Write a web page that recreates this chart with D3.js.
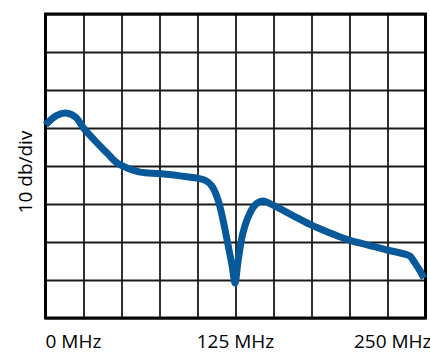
<!DOCTYPE html>
<html>
<head>
<meta charset="utf-8">
<script src="https://cdn.jsdelivr.net/npm/d3@7"></script>
<style>
  body { margin: 0; background: #fff; }
  svg { display: block; font-family: "Open Sans", sans-serif; }
</style>
</head>
<body>
<div id="chart"></div>
<script>
// frequency in MHz, level in dB (10 dB per division)
var freq = [0, 6.9, 14.1, 20, 25, 33.9, 40.5, 47.0, 53.6, 62.2, 75.3, 88.5, 99.7, 105.6, 109.5,
            113.5, 116.8, 120.1, 122.7, 124.7, 126.6, 129.9, 134.5, 138.5, 143.1, 149.7,
            162.2, 174.7, 187.2, 199.7, 212.2, 224.7, 236.5, 239.8, 243, 246.4, 249];
var level = [-29.2, -26.8, -26.1, -27.2, -30.0, -33.9, -36.6, -39.2, -40.5, -41.6, -42.0, -42.6, -43.2, -43.9, -45.3,
             -48.9, -54.2, -60.8, -66.1, -70.8, -65.3, -57.6, -52.4, -50.0, -49.2, -50.3,
             -52.9, -55.5, -57.6, -59.5, -60.8, -62.1, -63.2, -63.7, -65.5, -67.6, -69.5];
var freqGrid = d3.range(0, 251, 25);
var levelGrid = d3.range(0, -81, -10);
var tickLabels = [
    { f: 0, text: "0 MHz", anchor: "start" },
    { f: 125, text: "125 MHz", anchor: "middle" },
    { f: 250, text: "250 MHz", anchor: "end" }
];
var yLabel = "10 db/div";

var margin = { top: 14, right: 4.5, bottom: 35, left: 45.5 };
var W = 430, H = 353;
var width = W - margin.left - margin.right;
var height = H - margin.top - margin.bottom;

var svg = d3.select("#chart").append("svg")
    .attr("width", W)
    .attr("height", H);
var g = svg.append("g")
    .attr("transform", "translate(" + margin.left + "," + margin.top + ")");

var x = d3.scaleLinear().domain([0, 250]).range([0, width]);
var y = d3.scaleLinear().domain([-80, 0]).range([height, 0]);

// grid
g.append("g")
    .attr("transform", "translate(0," + height + ")")
    .call(d3.axisBottom(x).tickValues(freqGrid).tickSize(height).tickSizeOuter(0).tickFormat(""))
    .call(function(a) { a.select(".domain").remove(); })
    .selectAll("line")
    .attr("y2", -height)
    .attr("stroke", "#1a1a1a")
    .attr("stroke-width", 1.8);

g.append("g")
    .call(d3.axisLeft(y).tickValues(levelGrid).tickSize(-width).tickSizeOuter(0).tickFormat(""))
    .call(function(a) { a.select(".domain").remove(); })
    .selectAll("line")
    .attr("stroke", "#1a1a1a")
    .attr("stroke-width", 1.8);

g.append("rect")
    .attr("width", width)
    .attr("height", height)
    .attr("fill", "none")
    .attr("stroke", "#000")
    .attr("stroke-width", 3);

// trace
var line = d3.line()
    .x(function(d) { return x(d[0]); })
    .y(function(d) { return y(d[1]); })
    .curve(d3.curveCatmullRom.alpha(0.5));

g.append("path")
    .datum(d3.zip(freq, level))
    .attr("d", line)
    .attr("fill", "none")
    .attr("stroke", "#08599a")
    .attr("stroke-width", 7)
    .attr("stroke-linejoin", "round");

// labels
g.selectAll(".xlab").data(tickLabels).enter().append("text")
    .attr("class", "xlab")
    .attr("x", function(d) { return d.anchor === "end" ? x(d.f) + 6 : x(d.f); })
    .attr("y", height + 29.5)
    .attr("text-anchor", function(d) { return d.anchor; })
    .attr("font-size", 19)
    .attr("fill", "#000")
    .text(function(d) { return d.text; });

svg.append("text")
    .attr("transform", "translate(32,172) rotate(-90)")
    .attr("text-anchor", "middle")
    .attr("font-size", 19)
    .attr("fill", "#000")
    .text(yLabel);
</script>
</body>
</html>
